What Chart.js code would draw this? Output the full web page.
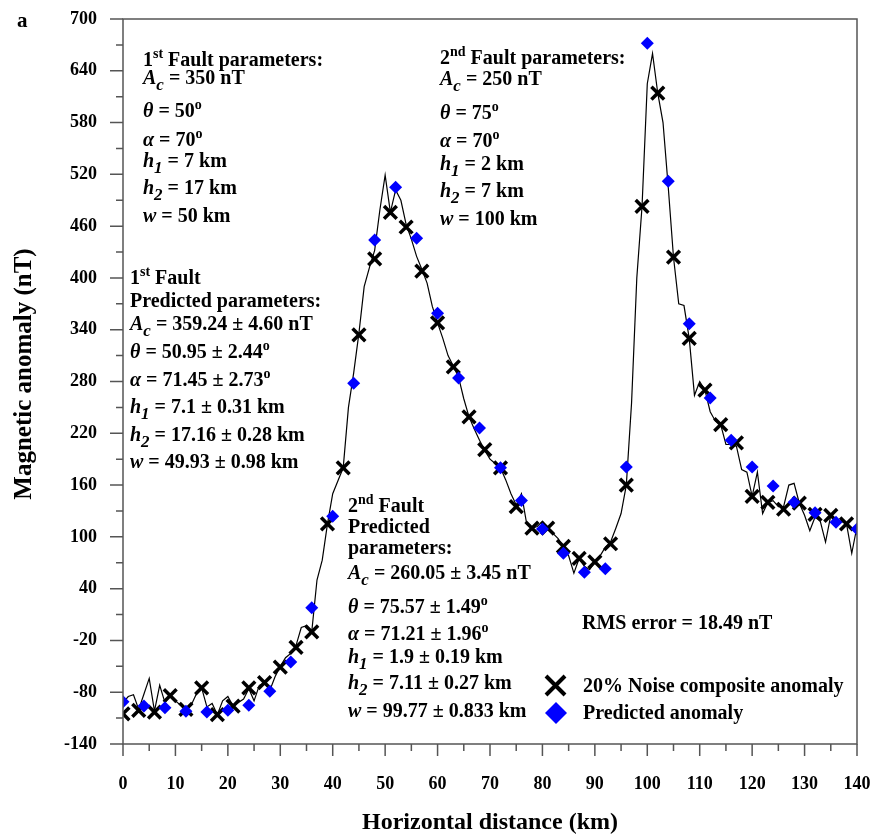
<!DOCTYPE html>
<html>
<head>
<meta charset="utf-8">
<script src="https://cdn.jsdelivr.net/npm/chart.js@4.4.1/dist/chart.umd.min.js"></script>
<style>
  html, body { margin: 0; padding: 0; background: #fff; }
  canvas { display: block; }
</style>
</head>
<body>
<canvas id="chart" width="887" height="838"></canvas>
<script>
// ── Data ──────────────────────────────────────
// noisy composite profile, 1 km spacing
const profileKm = [
  0, 1, 2, 3, 4, 5, 6, 7, 8, 9, 10, 11, 12, 13, 14, 15, 16, 17, 18, 19, 20,
  21, 22, 23, 24, 25, 26, 27, 28, 29, 30, 31, 32, 33, 34, 35, 36, 37, 38, 39, 40,
  41, 42, 43, 44, 45, 46, 47, 48, 49, 50, 51, 52, 53, 54, 55, 56, 57, 58, 59, 60,
  61, 62, 63, 64, 65, 66, 67, 68, 69, 70, 71, 72, 73, 74, 75, 76, 77, 78, 79, 80,
  81, 82, 83, 84, 85, 86, 87, 88, 89, 90, 91, 92, 93, 94, 95, 96, 97, 98, 99, 100,
  101, 102, 103, 104, 105, 106, 107, 108, 109, 110, 111, 112, 113, 114, 115, 116, 117, 118, 119, 120,
  121, 122, 123, 124, 125, 126, 127, 128, 129, 130, 131, 132, 133, 134, 135, 136, 137, 138, 139, 140
];
const profileNt = [
  -92, -85, -83, -100, -82, -64, -102, -72, -92, -84, -90, -95, -99, -95, -82, -75, -97, -93, -106, -90, -85,
  -96, -92, -88, -76, -90, -72, -69, -78, -62, -50, -40, -35, -26, -5, -3, -10, 50, 73, 115, 150,
  165, 180, 250, 290, 336, 390, 412, 432, 479, 519, 476, 502, 490, 462, 445, 425, 410, 394, 367, 348,
  330, 310, 298, 285, 260, 239, 225, 212, 200, 190, 185, 180, 166, 150, 137, 150, 115, 110, 112, 118,
  110, 104, 98, 88, 78, 58, 75, 66, 62, 71, 78, 88, 94, 110, 127, 160, 255, 400, 483, 625,
  660, 614, 580, 505, 424, 370, 368, 330, 264, 280, 270, 245, 234, 230, 207, 207, 205, 178, 175, 147,
  175, 127, 140, 142, 135, 135, 160, 162, 139, 125, 107, 123, 118, 94, 125, 120, 118, 115, 81, 112
];

// 20% noise composite anomaly samples
const noiseKm = [0, 3, 6, 9, 12, 15, 18, 21, 24, 27, 30, 33, 36, 39, 42, 45, 48, 51, 54, 57, 60, 63, 66,
  69, 72, 75, 78, 81, 84, 87, 90, 93, 96, 99, 102, 105, 108, 111, 114, 117, 120, 123, 126, 129, 132, 135, 138];
const noiseNt = [-105, -101, -103, -84, -100, -75, -106, -96, -75, -69, -51, -28, -10, 115, 180, 334, 422, 476, 459, 408, 348, 297, 239,
  201, 180, 135, 110, 110, 89, 75, 71, 92, 160, 483, 614, 424, 330, 270, 230, 209, 147, 140, 132, 139, 126, 125, 115];

// predicted anomaly
const predKm = [0, 4, 8, 12, 16, 20, 24, 28, 32, 36, 40, 44, 48, 52, 56, 60, 64, 68,
  72, 76, 80, 84, 88, 92, 96, 100, 104, 108, 112, 116, 120, 124, 128, 132, 136, 140];
const predNt = [-91, -96, -98, -102, -103, -101, -95, -79, -45, 18, 124, 278, 444, 505, 446, 359, 284, 226,
  180, 142, 109, 81, 59, 63, 181, 672, 512, 347, 261, 212, 181, 159, 140, 128, 117, 109];

// axis ticks
const xMajor = [0, 10, 20, 30, 40, 50, 60, 70, 80, 90, 100, 110, 120, 130, 140];
const xMinor = [5, 15, 25, 35, 45, 55, 65, 75, 85, 95, 105, 115, 125, 135];
const yMajor = [-140, -80, -20, 40, 100, 160, 220, 280, 340, 400, 460, 520, 580, 640, 700];
const yMinor = [-110, -50, 10, 70, 130, 190, 250, 310, 370, 430, 490, 550, 610, 670];

const pairs = (xs, ys) => xs.map((x, i) => ({ x, y: ys[i] }));

// ── Text blocks ───────────────────────────────
const SERIF = '"Liberation Serif", "Times New Roman", serif';
const param = (sym, sub, rest, deg) => {
  const p = [[sym, 'i']];
  if (sub) p.push([sub, 'i sub']);
  p.push([rest, '']);
  if (deg) p.push(['o', 'sup']);
  return p;
};
const ordinal = (n, suf, rest) => [[n, ''], [suf, 'sup'], [rest, '']];

const textBlocks = [
  { x: 143, lines: [
    [66, ordinal('1', 'st', ' Fault parameters:')],
    [84, param('A', 'c', ' = 350 nT')],
    [117, param('θ', null, ' = 50', true)],
    [146, param('α', null, ' = 70', true)],
    [167, param('h', '1', ' = 7 km')],
    [194, param('h', '2', ' = 17 km')],
    [222, param('w', null, ' = 50 km')]
  ]},
  { x: 440, lines: [
    [64, ordinal('2', 'nd', ' Fault parameters:')],
    [85, param('A', 'c', ' = 250 nT')],
    [119, param('θ', null, ' = 75', true)],
    [147, param('α', null, ' = 70', true)],
    [170, param('h', '1', ' = 2 km')],
    [197, param('h', '2', ' = 7 km')],
    [225, param('w', null, ' = 100 km')]
  ]},
  { x: 130, lines: [
    [284, ordinal('1', 'st', ' Fault')],
    [307, [['Predicted parameters:', '']]],
    [330, param('A', 'c', ' = 359.24 ± 4.60 nT')],
    [358, param('θ', null, ' = 50.95 ± 2.44', true)],
    [386, param('α', null, ' = 71.45 ± 2.73', true)],
    [413, param('h', '1', ' = 7.1 ± 0.31 km')],
    [441, param('h', '2', ' = 17.16 ± 0.28 km')],
    [468, param('w', null, ' = 49.93 ± 0.98 km')]
  ]},
  { x: 348, lines: [
    [512, ordinal('2', 'nd', ' Fault')],
    [533, [['Predicted', '']]],
    [554, [['parameters:', '']]],
    [579, param('A', 'c', ' = 260.05 ± 3.45 nT')],
    [613, param('θ', null, ' = 75.57 ± 1.49', true)],
    [640, param('α', null, ' = 71.21 ± 1.96', true)],
    [663, param('h', '1', ' = 1.9 ± 0.19 km')],
    [689, param('h', '2', ' = 7.11 ± 0.27 km')],
    [717, param('w', null, ' = 99.77 ± 0.833 km')]
  ]},
  { x: 582, lines: [
    [629, [['RMS error = 18.49 nT', '']]]
  ]}
];

function drawRich(ctx, x, y, parts, size) {
  let cx = x;
  parts.forEach(([txt, st]) => {
    const italic = st.includes('i');
    const sup = st.includes('sup');
    const sub = st.includes('sub');
    const fs = sup ? size * 0.7 : sub ? size * 0.85 : size;
    ctx.font = `${italic ? 'italic ' : ''}bold ${fs}px ${SERIF}`;
    const dy = sup ? -size * 0.42 : sub ? size * 0.3 : 0;
    ctx.fillText(txt, cx, y + dy);
    cx += ctx.measureText(txt).width;
  });
}

// ── Frame, ticks, titles, notes, key ──────────
const decor = {
  id: 'decor',
  afterDraw(chart) {
    const { ctx, chartArea: a, scales: { x, y } } = chart;
    ctx.save();
    ctx.strokeStyle = '#555';
    ctx.lineWidth = 1.5;
    ctx.strokeRect(a.left, a.top, a.right - a.left, a.bottom - a.top);

    ctx.beginPath();
    xMajor.forEach(v => { const px = x.getPixelForValue(v); ctx.moveTo(px, a.bottom); ctx.lineTo(px, a.bottom + 12); });
    xMinor.forEach(v => { const px = x.getPixelForValue(v); ctx.moveTo(px, a.bottom); ctx.lineTo(px, a.bottom + 7); });
    yMajor.forEach(v => { const py = y.getPixelForValue(v); ctx.moveTo(a.left, py); ctx.lineTo(a.left - 13, py); });
    yMinor.forEach(v => { const py = y.getPixelForValue(v); ctx.moveTo(a.left, py); ctx.lineTo(a.left - 7, py); });
    ctx.stroke();

    ctx.fillStyle = '#000';
    ctx.textBaseline = 'alphabetic';

    // panel letter
    ctx.font = `bold 21px ${SERIF}`;
    ctx.textAlign = 'left';
    ctx.fillText('a', 17, 27);

    // axis titles
    ctx.font = `bold 24px ${SERIF}`;
    ctx.textAlign = 'center';
    ctx.fillText('Horizontal distance (km)', 490, 829);
    ctx.font = `bold 25px ${SERIF}`;
    ctx.save();
    ctx.translate(31, 374);
    ctx.rotate(-Math.PI / 2);
    ctx.fillText('Magnetic anomaly (nT)', 0, 0);
    ctx.restore();

    // parameter notes
    ctx.textAlign = 'left';
    textBlocks.forEach(b => b.lines.forEach(([by, parts]) => drawRich(ctx, b.x, by, parts, 20)));

    // key
    ctx.strokeStyle = '#000';
    ctx.lineWidth = 4;
    ctx.beginPath();
    ctx.moveTo(546, 676); ctx.lineTo(565, 695);
    ctx.moveTo(565, 676); ctx.lineTo(546, 695);
    ctx.stroke();
    ctx.fillStyle = '#0000ff';
    ctx.beginPath();
    ctx.moveTo(556, 702); ctx.lineTo(567, 713); ctx.lineTo(556, 724); ctx.lineTo(545, 713);
    ctx.closePath();
    ctx.fill();
    ctx.fillStyle = '#000';
    ctx.font = `bold 20px ${SERIF}`;
    ctx.fillText('20% Noise composite anomaly', 583, 692);
    ctx.fillText('Predicted anomaly', 583, 719);
    ctx.restore();
  }
};

// ── Chart ─────────────────────────────────────
const tickFont = { family: SERIF, size: 18, weight: 'bold' };

new Chart(document.getElementById('chart'), {
  type: 'scatter',
  data: {
    datasets: [
      {
        label: 'Predicted anomaly',
        data: pairs(predKm, predNt),
        pointStyle: 'rectRot',
        pointRadius: 6.5,
        backgroundColor: '#0000ff',
        borderWidth: 0,
        order: 0
      },
      {
        label: '20% Noise composite anomaly',
        data: pairs(noiseKm, noiseNt),
        pointStyle: 'crossRot',
        pointRadius: 9,
        borderColor: '#000',
        borderWidth: 3.5,
        order: 1
      },
      {
        type: 'line',
        label: 'profile',
        data: pairs(profileKm, profileNt),
        borderColor: '#000',
        borderWidth: 1.2,
        pointRadius: 0,
        tension: 0,
        fill: false,
        order: 2
      }
    ]
  },
  options: {
    responsive: false,
    animation: false,
    events: [],
    layout: { padding: { top: 19, right: 30, left: 0, bottom: 0 } },
    plugins: { legend: { display: false }, tooltip: { enabled: false } },
    scales: {
      x: {
        type: 'linear',
        min: 0,
        max: 140,
        grid: { display: false },
        border: { display: false },
        afterBuildTicks: s => { s.ticks = xMajor.map(v => ({ value: v })); },
        afterFit: s => { s.height = 94; s.paddingLeft = 0; s.paddingRight = 0; },
        ticks: { font: tickFont, color: '#000', padding: 22, maxRotation: 0, autoSkip: false }
      },
      y: {
        min: -140,
        max: 700,
        grid: { display: false },
        border: { display: false },
        afterBuildTicks: s => { s.ticks = yMajor.map(v => ({ value: v })); },
        afterFit: s => { s.width = 123; s.paddingTop = 0; s.paddingBottom = 0; },
        ticks: { font: tickFont, color: '#000', padding: 18, autoSkip: false }
      }
    }
  },
  plugins: [decor]
});
</script>
</body>
</html>
